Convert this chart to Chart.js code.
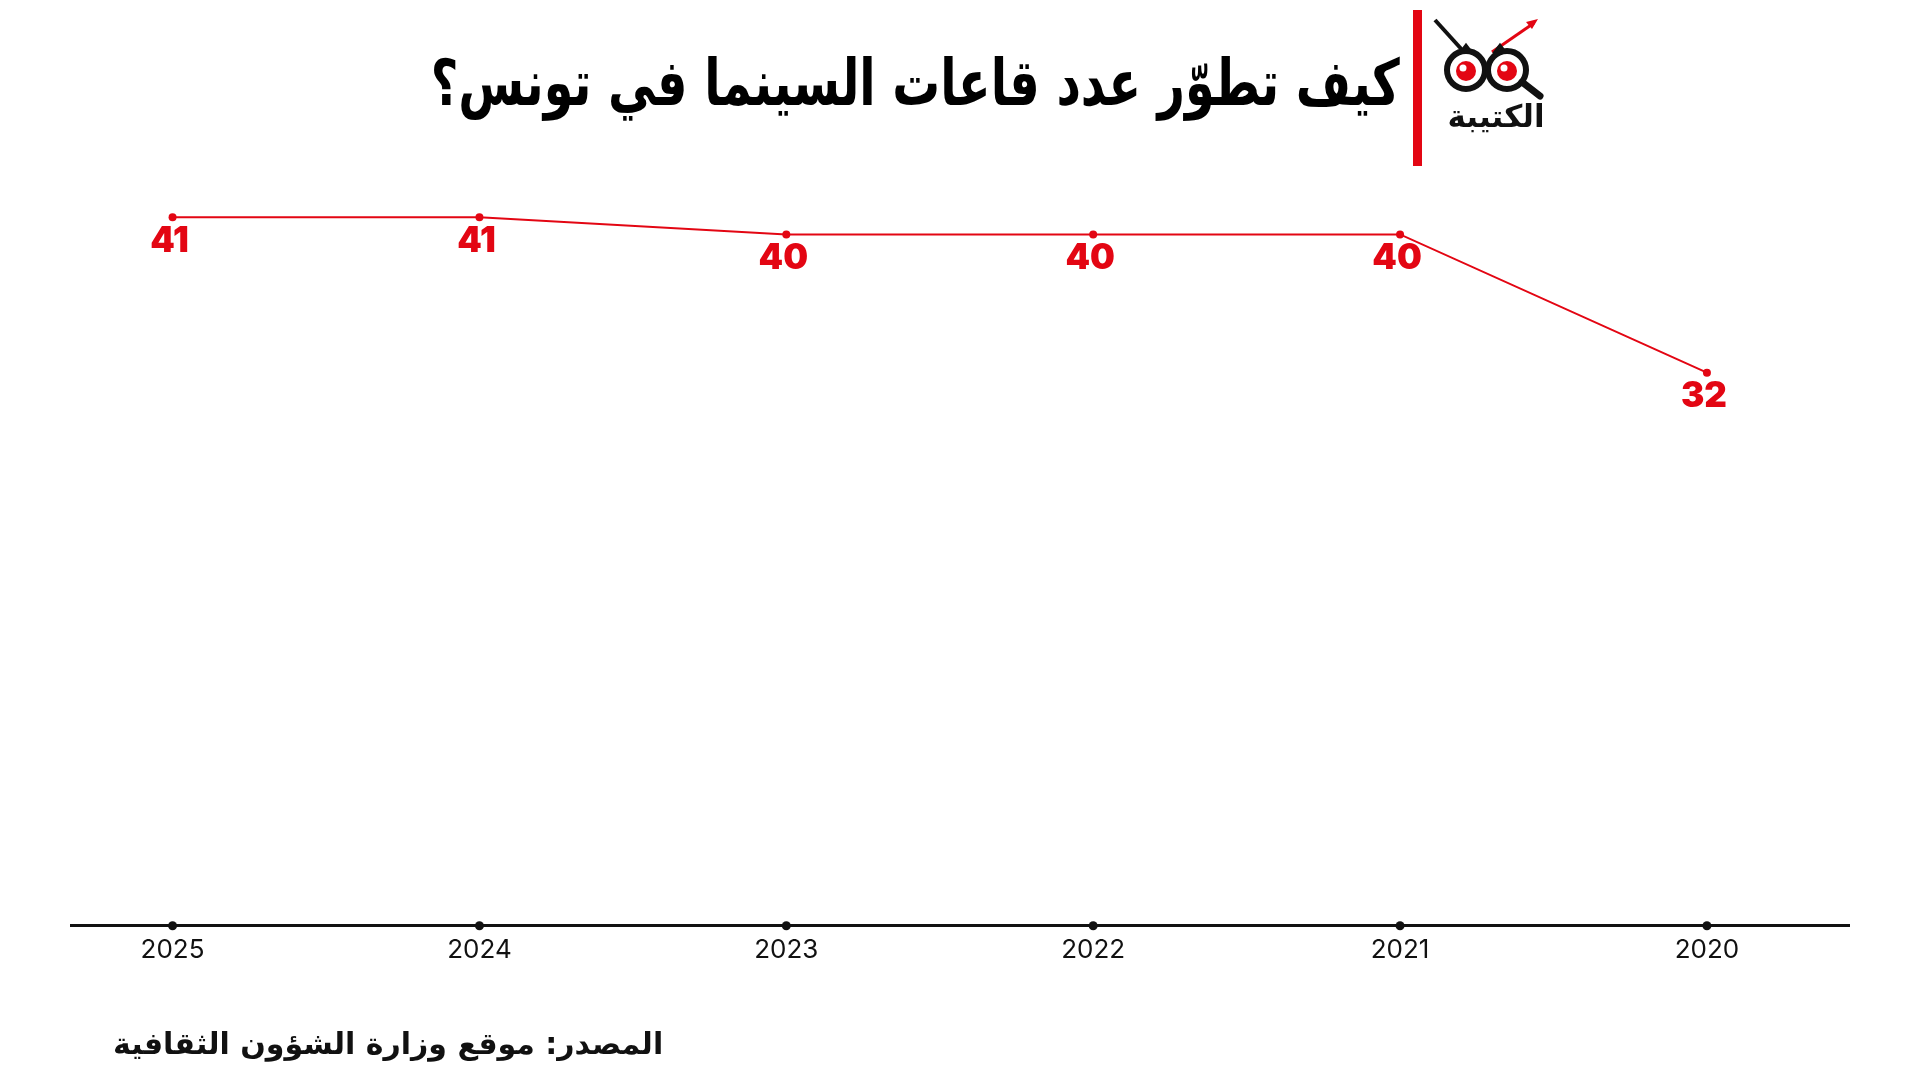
<!DOCTYPE html>
<html lang="ar">
<head>
<meta charset="utf-8">
<title>قاعات السينما في تونس</title>
<script src="https://cdn.jsdelivr.net/npm/chart.js@4.4.1/dist/chart.umd.min.js"></script>
<style>
    html, body { margin: 0; padding: 0; background: #fff; }
    #wrap { position: relative; width: 1920px; height: 1080px; overflow: hidden; }
    #cinemaChart { position: absolute; left: 0; top: 0; }
    .title {
        position: absolute; right: 520px; top: 51px;
        direction: rtl; font-family: "DejaVu Sans", sans-serif; font-weight: bold;
        font-size: 64px; color: #000; white-space: nowrap; line-height: 1;
        transform: scaleX(0.745); transform-origin: right center;
    }
    .bar { position: absolute; left: 1413px; top: 10px; width: 9px; height: 156px; background: #e30613; }
    .logo { position: absolute; left: 1430px; top: 14px; }
    .logo-text {
        position: absolute; left: 1434px; top: 98px; width: 124px; text-align: center;
        direction: rtl; font-family: "DejaVu Sans", sans-serif; font-weight: bold; font-size: 31px; color: #111;
    }
    .source {
        position: absolute; left: 113px; top: 1026px;
        direction: rtl; font-family: "DejaVu Sans", sans-serif; font-weight: bold; font-size: 30px; color: #111; white-space: nowrap;
    }
</style>
</head>
<body>
<div id="wrap">
    <canvas id="cinemaChart" width="1920" height="1080"></canvas>
    <div class="title">كيف تطوّر عدد قاعات السينما في تونس؟</div>
    <div class="bar"></div>
    <svg class="logo" width="125" height="90" viewBox="0 0 125 90">
        <line x1="5" y1="6" x2="34" y2="38" stroke="#111" stroke-width="4"/>
        <line x1="62" y1="38" x2="104" y2="9" stroke="#e30613" stroke-width="3"/>
        <polygon points="108,5 96,8 102,15" fill="#e30613"/>
        <path d="M30,40 L36,32 L42,40" fill="none" stroke="#111" stroke-width="4"/>
        <path d="M64,40 L70,32 L76,40" fill="none" stroke="#111" stroke-width="4"/>
        <circle cx="36" cy="56" r="19" fill="#fff" stroke="#111" stroke-width="6"/>
        <circle cx="77" cy="56" r="19" fill="#fff" stroke="#111" stroke-width="6"/>
        <circle cx="36" cy="57" r="10" fill="#e30613"/>
        <circle cx="77" cy="57" r="10" fill="#e30613"/>
        <circle cx="33" cy="54" r="3.5" fill="#fff"/>
        <circle cx="74" cy="54" r="3.5" fill="#fff"/>
        <line x1="92" y1="68" x2="110" y2="82" stroke="#111" stroke-width="7" stroke-linecap="round"/>
    </svg>
    <div class="logo-text">الكتيبة</div>
    <div class="source">المصدر: موقع وزارة الشؤون الثقافية</div>
</div>
<script>
// data
const years = ["2025", "2024", "2023", "2022", "2021", "2020"];
const cinemaCounts = [41, 41, 40, 40, 40, 32];

const red = "#e30613";

// red numbers under every point
const valueLabels = {
    id: "valueLabels",
    afterDatasetsDraw(chart) {
        const { ctx } = chart;
        const meta = chart.getDatasetMeta(0);
        ctx.save();
        ctx.fillStyle = red;
        ctx.font = "900 35px Inter";
        ctx.textAlign = "center";
        ctx.textBaseline = "middle";
        meta.data.forEach((pt, i) => {
            ctx.fillText(String(cinemaCounts[i]), pt.x - 3, pt.y + 24);
        });
        ctx.restore();
    },
};

// small black dots on the axis line at every tick
const axisDots = {
    id: "axisDots",
    afterDraw(chart) {
        const { ctx } = chart;
        const x = chart.scales.x;
        ctx.save();
        ctx.fillStyle = "#111";
        x.ticks.forEach((t) => {
            ctx.beginPath();
            ctx.arc(x.getPixelForValue(t.value), x.top, 4.5, 0, Math.PI * 2);
            ctx.fill();
        });
        ctx.restore();
    },
};

new Chart(document.getElementById("cinemaChart"), {
    type: "line",
    data: {
        datasets: [
            {
                data: years.map((y, i) => ({ x: i, y: cinemaCounts[i] })),
                borderColor: red,
                borderWidth: 2,
                backgroundColor: red,
                pointRadius: 4,
                pointBackgroundColor: red,
                pointBorderWidth: 0,
                tension: 0,
                fill: false,
            },
        ],
    },
    options: {
        responsive: false,
        animation: false,
        layout: {
            padding: { left: 71, right: 71, top: 148, bottom: 105 },
        },
        scales: {
            x: {
                type: "linear",
                min: -0.331,
                max: 5.463,
                afterBuildTicks: (scale) => {
                    scale.ticks = years.map((y, i) => ({ value: i }));
                },
                ticks: {
                    callback: (v) => years[v],
                    color: "#111",
                    font: { family: "Inter", size: 26 },
                    padding: 9,
                },
                grid: { display: false, drawTicks: false },
                border: { display: true, color: "#111", width: 3 },
            },
            y: {
                display: false,
                min: 0,
                max: 45,
            },
        },
        plugins: {
            legend: { display: false },
            tooltip: { enabled: false },
        },
    },
    plugins: [valueLabels, axisDots],
});
</script>
</body>
</html>
